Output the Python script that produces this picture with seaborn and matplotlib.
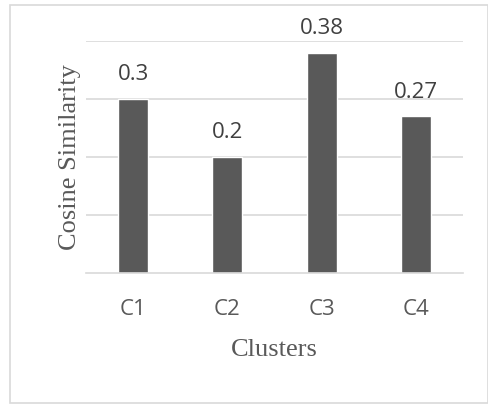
import numpy as np
import pandas as pd
import seaborn as sns
import matplotlib.pyplot as plt
from matplotlib.patches import Rectangle

# data
clusters = ['C1', 'C2', 'C3', 'C4']
cos_sim = [0.3, 0.2, 0.38, 0.27]
df = pd.DataFrame({'cluster': clusters, 'similarity': cos_sim})

sns.set_theme(style='white')
plt.rcParams['font.family'] = ['Open Sans', 'DejaVu Sans']

fig = plt.figure(figsize=(4.89, 4.05), dpi=100)
ax = fig.add_axes([86 / 489, 1 - 273 / 405, 377 / 489, 232 / 405])

sns.barplot(x='cluster', y='similarity', data=df, color='#595959',
            saturation=1, width=0.32, errorbar=None, ax=ax)

ax.set_ylim(0, 0.4)
ax.set_yticks([0.1, 0.2, 0.3, 0.4])
ax.yaxis.grid(True, color='#d9d9d9', linewidth=1.2)
ax.set_axisbelow(True)
ax.tick_params(axis='y', left=False, labelleft=False)
ax.tick_params(axis='x', bottom=False, labelsize=16, labelcolor='#595959', pad=13)
for s in ['top', 'left', 'right']:
    ax.spines[s].set_visible(False)
ax.spines['bottom'].set_color('#d9d9d9')
ax.spines['bottom'].set_linewidth(1.2)

# value labels
for c in ax.containers:
    ax.bar_label(c, labels=[f'{v:g}' for v in cos_sim], padding=10,
                 fontsize=16, color='#404040')

ax.set_xlabel('Clusters', family='Liberation Serif', fontsize=19, color='#595959')
ax.set_ylabel('Cosine Similarity', family='Liberation Serif', fontsize=19, color='#595959')
ax.xaxis.set_label_coords(0.5, -(350 - 273) / 232)
ax.xaxis.label.set_va('center')
ax.yaxis.set_label_coords((70 - 86) / 377, 0.5)
ax.yaxis.label.set_va('center')

# light frame round the whole chart
fig.patches.append(Rectangle((10 / 489, 2 / 405), 478 / 489, 398 / 405,
                             transform=fig.transFigure, fill=False,
                             edgecolor='#d9d9d9', linewidth=1.2))

fig.savefig('out.png', dpi=100)
